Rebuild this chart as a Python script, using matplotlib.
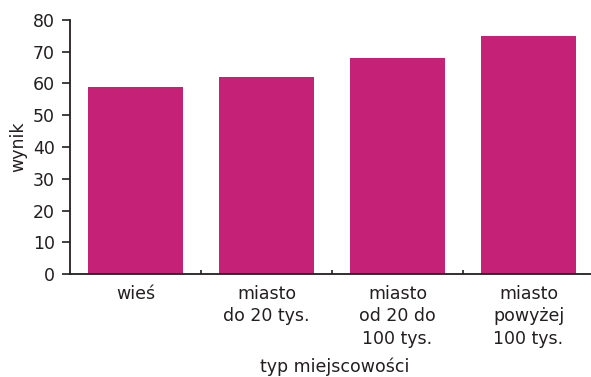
import matplotlib
matplotlib.use("Agg")
import matplotlib.pyplot as plt
import numpy as np

plt.rcParams['font.family'] = ['DejaVu Sans']

categories = ["wieś", "miasto\ndo 20 tys.", "miasto\nod 20 do\n100 tys.", "miasto\npowyżej\n100 tys."]
values = [59, 62, 68, 75]
yticks = [0, 10, 20, 30, 40, 50, 60, 70, 80]

bar_color = "#C52277"
text_color = "#231F20"
fs = 12.5

fig = plt.figure(figsize=(5.91, 3.77), dpi=100)
# axes runs a little past the right edge of the figure, like the reference
ax = fig.add_axes([70/591, 103/377, 524/591, 254/377])

x = np.arange(len(categories))
ax.bar(x, values, width=0.73, color=bar_color, zorder=2)

ax.set_xlim(-0.5, len(categories) - 0.5)
ax.set_ylim(0, 80)
ax.set_yticks(yticks)
ax.set_yticklabels([str(v) for v in yticks])

ax.set_xticks(x)
ax.set_xticklabels(categories, linespacing=1.3, va='top')
ax.tick_params(axis='x', which='major', length=0, pad=8, labelsize=fs, colors=text_color)
ax.set_xticks(x[:-1] + 0.5, minor=True)
ax.tick_params(axis='x', which='minor', direction='in', length=3, width=1.2, color=text_color)
ax.tick_params(axis='y', which='major', direction='out', length=6, width=1.2, pad=5,
               labelsize=fs, colors=text_color)

for side in ['top', 'right']:
    ax.spines[side].set_visible(False)
for side in ['left', 'bottom']:
    ax.spines[side].set_color(text_color)
    ax.spines[side].set_linewidth(1.3)

ax.set_xlabel("typ miejscowości", fontsize=fs, color=text_color, va='center')
ax.xaxis.set_label_coords(0.506, -0.366)
ax.set_ylabel("wynik", fontsize=fs, color=text_color, va='center')
ax.yaxis.set_label_coords(-0.099, 0.5)

fig.savefig("out.png", dpi=100)
